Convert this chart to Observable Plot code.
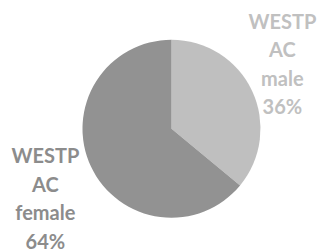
<!DOCTYPE html>
<html>
<head>
<meta charset="utf-8">
<script src="https://cdn.jsdelivr.net/npm/d3@7"></script>
<script src="https://cdn.jsdelivr.net/npm/@observablehq/plot@0.6"></script>
<style>
  html, body { margin: 0; padding: 0; background: #fff; }
</style>
</head>
<body>
<div id="chart"></div>
<script>
// Data
const categories = ["WESTP\nAC\nmale", "WESTP\nAC\nfemale"];
const shares = [36, 64];
const sliceColors = ["#bfbfbf", "#929292"];
const labelColors = ["#c0c0c0", "#8c8c8c"];

const W = 323, H = 251;
const cx = 171.5, cy = 128.7, r = 89;
const labelRadius = [122, 140];
const labelNudgeY = [-15, 8];

const table = categories.map((c, i) => ({category: c, share: shares[i], fill: sliceColors[i], color: labelColors[i]}));
const arcs = d3.pie().sort(null).value(d => d.share)(table);
const labels = arcs.map((a, i) => {
  const mid = (a.startAngle + a.endAngle) / 2;
  return {
    text: a.data.category + "\n" + Math.round(a.data.share) + "%",
    x: cx + labelRadius[i] * Math.sin(mid),
    y: cy - labelRadius[i] * Math.cos(mid) + labelNudgeY[i],
    color: a.data.color
  };
});

const pieMark = (index, scales, values, dimensions) => {
  const g = d3.create("svg:g")
    .attr("transform", `translate(${scales.x(cx)},${scales.y(cy)})`);
  const scaleR = scales.x(r) - scales.x(0);
  const arcGen = d3.arc().innerRadius(0).outerRadius(scaleR);
  g.selectAll("path").data(arcs).join("path")
    .attr("d", arcGen)
    .attr("fill", d => d.data.fill);
  return g.node();
};

const chart = Plot.plot({
  width: W,
  height: H,
  margin: 0,
  x: {domain: [0, W], range: [0, W], axis: null},
  y: {domain: [0, H], range: [0, H], axis: null},
  style: {background: "#fff"},
  marks: [
    pieMark,
    Plot.text(labels, {
      x: "x", y: "y", text: "text", fill: d => d.color,
      fontSize: 20, fontWeight: "bold", fontFamily: "Lato",
      lineHeight: 1.43, textAnchor: "middle", lineAnchor: "middle"
    })
  ]
});
document.getElementById("chart").appendChild(chart);
</script>
</body>
</html>
